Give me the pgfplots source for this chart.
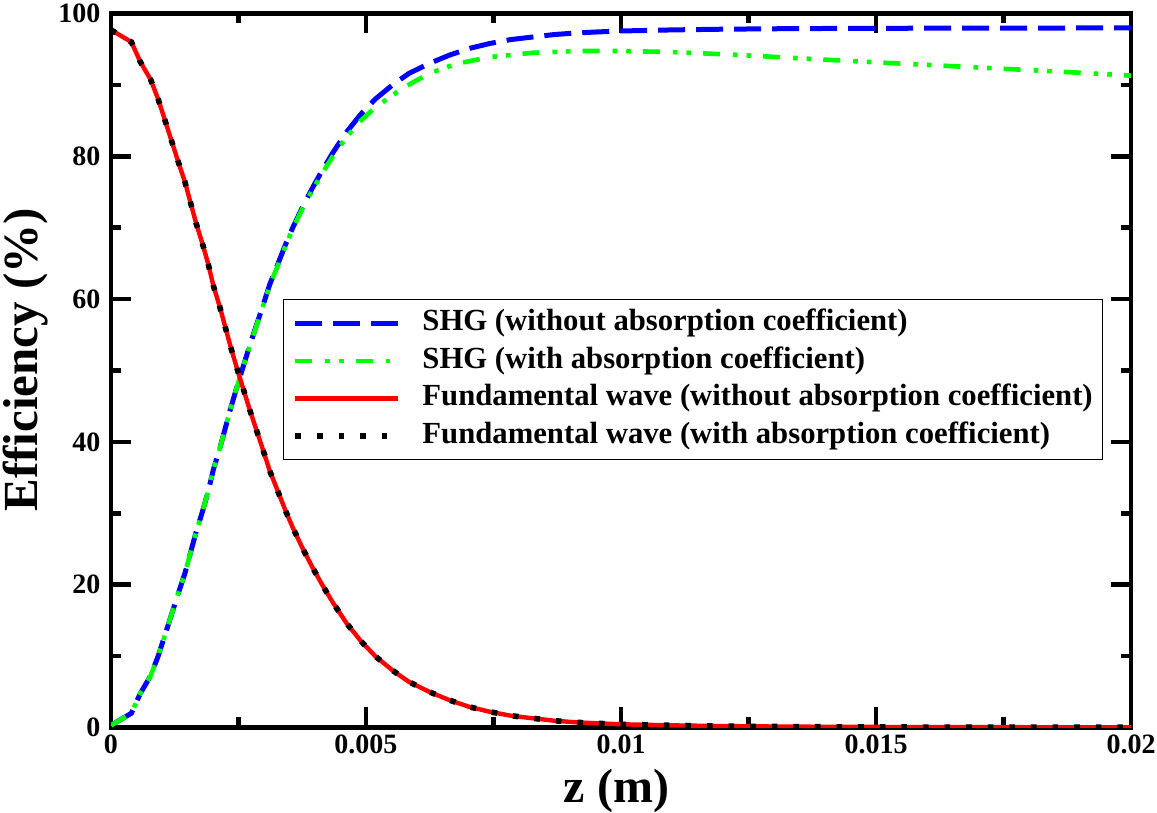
\documentclass[border=0pt]{standalone}
\usepackage{pgfplots}
\pgfplotsset{compat=1.18}
\usepackage{pgfplotstable}
\usepackage{fontspec}
\setmainfont{Liberation Serif}

\pgfplotstableread{
z F
0 97.7
0.0004 96.0
0.00057 93.3
0.00078 90.7
0.00093 87.9
0.00106 85.0
0.00119 82.1
0.00132 79.2
0.00145 76.4
0.00156 73.5
0.00167 70.6
0.0018 67.6
0.00191 64.8
0.00201 61.8
0.00213 59.0
0.00224 56.1
0.00235 53.2
0.00247 50.3
0.00259 47.5
0.00272 44.5
0.00285 41.7
0.00298 38.9
0.00311 36.0
0.00326 33.3
0.00342 30.4
0.00357 27.9
0.00377 24.9
0.00396 22.3
0.00414 20.0
0.00435 17.5
0.00462 14.6
0.0049 12.1
0.00518 10.0
0.00552 8.0
0.00584 6.4
0.00624 5.0
0.00663 3.85
0.00702 2.9
0.00743 2.2
0.00784 1.65
0.00826 1.3
0.00869 0.95
0.00911 0.73
0.00955 0.58
0.010 0.45
0.011 0.3
0.012 0.2
0.013 0.14
0.014 0.1
0.015 0.08
0.016 0.06
0.017 0.05
0.018 0.04
0.019 0.03
0.020 0.03
}\fund

\pgfplotstableread{
z S
0 0.3
0.0004 2.0
0.00057 4.7
0.00078 7.3
0.00093 10.1
0.00106 13.0
0.00119 15.9
0.00132 18.8
0.00145 21.6
0.00156 24.5
0.00167 27.4
0.0018 30.4
0.00191 33.2
0.00201 36.2
0.00213 39.0
0.00224 41.9
0.00235 44.8
0.00247 47.7
0.00259 50.5
0.00272 53.5
0.00285 56.3
0.00298 59.1
0.00311 62.0
0.00326 64.7
0.00342 67.6
0.00357 70.1
0.00377 73.1
0.00396 75.7
0.00414 78.0
0.00435 80.5
0.00462 83.4
0.0049 85.9
0.00518 88.0
0.00552 90.0
0.00584 91.6
0.00624 93.0
0.00663 94.15
0.00702 95.1
0.00743 95.8
0.00784 96.35
0.00826 96.7
0.00869 97.05
0.00911 97.27
0.00955 97.42
0.010 97.55
0.011 97.7
0.012 97.8
0.013 97.86
0.014 97.9
0.015 97.92
0.016 97.94
0.017 97.95
0.018 97.96
0.019 97.97
0.020 97.97
}\shgA

\pgfplotstableread{
z S
0 0.3
0.0004 2.0
0.00057 4.7
0.00078 7.3
0.00093 10.1
0.00106 13.0
0.00119 15.9
0.00132 18.8
0.00145 21.6
0.00156 24.5
0.00167 27.4
0.0018 30.4
0.00191 33.2
0.00201 36.2
0.00213 39.0
0.00224 41.9
0.00235 44.8
0.00247 47.7
0.00259 50.5
0.00272 53.4
0.00285 56.2
0.00298 59.0
0.00311 61.9
0.00326 64.5
0.00342 67.4
0.00357 70.0
0.00377 72.9
0.00396 75.4
0.00414 77.6
0.00435 80.0
0.00462 82.7
0.0049 85.0
0.00519 86.9
0.00549 88.4
0.00571 89.5
0.00601 90.7
0.00631 91.8
0.0068 93.0
0.00744 93.9
0.00827 94.5
0.00917 94.75
0.00992 94.75
0.0110 94.6
0.0123 94.2
0.01357 93.7
0.01475 93.25
0.016 92.8
0.0171 92.4
0.01835 91.95
0.0195 91.5
0.02 91.3
}\shgB

\begin{document}
\begin{tikzpicture}
\begin{axis}[
  scale only axis,
  width=510pt, height=357pt,
  xmin=0, xmax=0.02, ymin=0, ymax=100,
  axis line style={line width=2.35pt},
  every tick/.style={line width=2.35pt, black},
  tick align=inside,
  xtick pos=both, ytick pos=both,
  xtick={0,0.005,0.01,0.015,0.02},
  xticklabels={0,0.005,0.01,0.015,0.02},
  ytick={0,20,40,60,80,100},
  yticklabels={0,20,40,60,80,100},
  minor x tick num=1, minor y tick num=1,
  major tick length=10pt, minor tick length=5pt,
  scaled x ticks=false,
  tick label style={font=\fontsize{14}{16}\selectfont\bfseries},
  yticklabel style={xshift=-1.8pt},
  xlabel={z (m)},
  ylabel={Efficiency (\%)},
  xlabel style={font=\fontsize{24}{28}\selectfont\bfseries, at={(axis description cs:0.4956,-0.1057)}, anchor=base},
  ylabel style={font=\fontsize{24.5}{28}\selectfont\bfseries, at={(axis description cs:-0.0725,0.515)}, anchor=base, rotate=0},
  legend cell align=left,
  legend style={draw=black, line width=0.5pt, at={(axis description cs:0.1686,0.600)}, anchor=north west,
    inner xsep=3pt, inner ysep=2.6pt,
    font=\fontsize{15.35}{18}\selectfont\bfseries,
    nodes={inner sep=2pt, text height=11pt, text depth=3.75pt}},
  legend image code/.code={
    \path[draw=none,fill=none] (0pt,-1pt) rectangle (64.5pt,1pt);
    \draw[#1] (3pt,0pt) -- (54.5pt,0pt);
  },
]
\addplot[blue, line width=2.5pt, dash pattern=on 13.5pt off 5.5pt] table[x=z,y=S] {\shgA};
\addlegendentry{SHG (without absorption coefficient)}
\addplot[green, line width=2.3pt, dash pattern=on 8.5pt off 6.5pt on 2.3pt off 4.5pt on 2.3pt off 6pt] table[x=z,y=S] {\shgB};
\addlegendentry{SHG (with absorption coefficient)}
\addplot[red, line width=2.2pt] table[x=z,y=F] {\fund};
\addlegendentry{Fundamental wave (without absorption coefficient)}
\addplot[black, line width=2.8pt, dash pattern=on 2.8pt off 8pt] table[x=z,y=F] {\fund};
\addlegendentry{Fundamental wave (with absorption coefficient)}
\end{axis}
\pgfresetboundingbox
\path[use as bounding box] ([xshift=-55.5pt,yshift=-42.75pt]current axis.south west) rectangle ([xshift=13pt,yshift=6.75pt]current axis.north east);
\end{tikzpicture}
\end{document}
